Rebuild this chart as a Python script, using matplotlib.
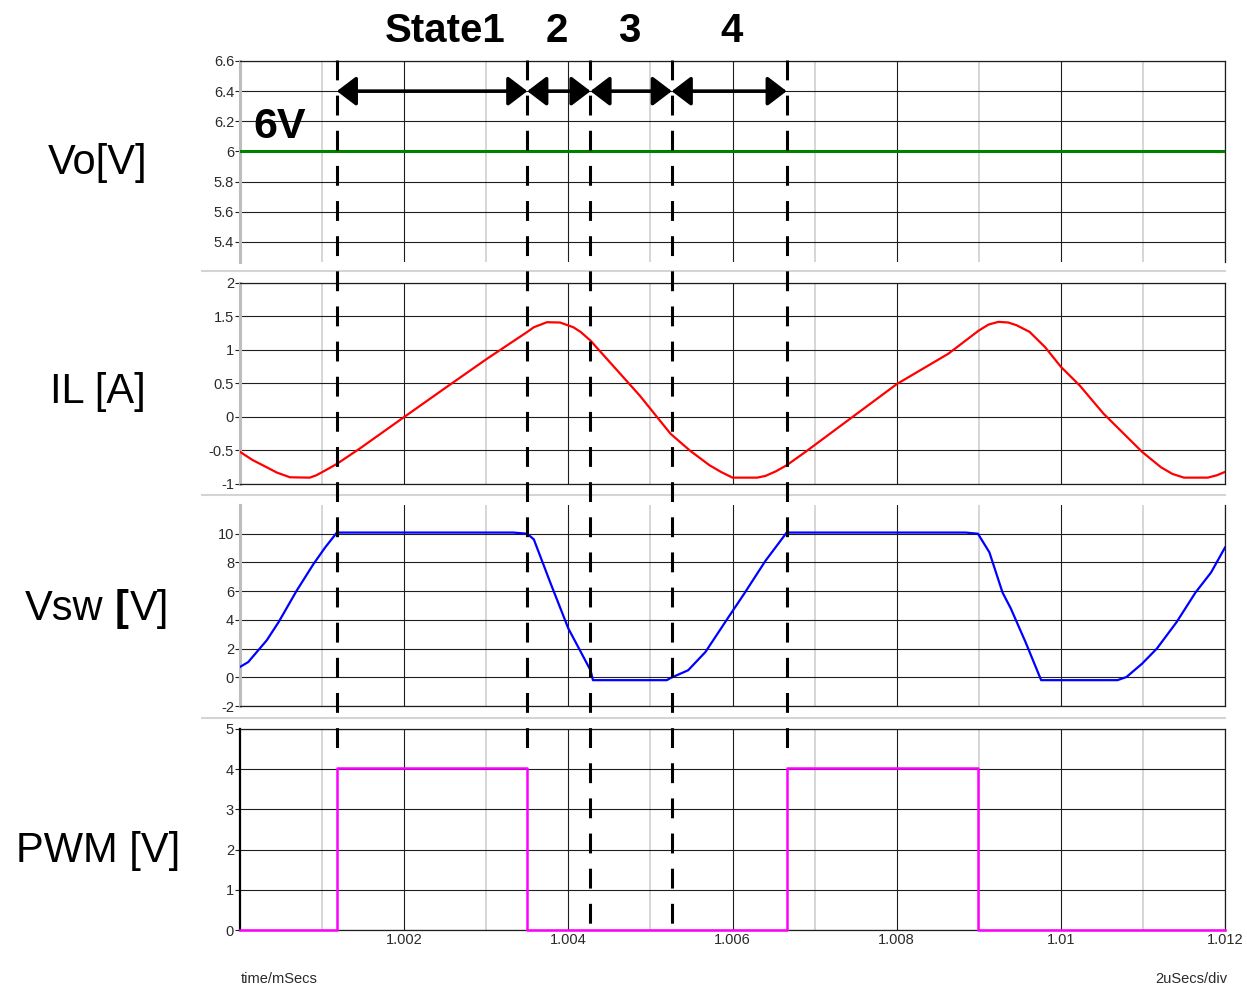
import matplotlib
matplotlib.use('Agg')
import matplotlib.pyplot as plt
from matplotlib.lines import Line2D
from matplotlib.patches import ArrowStyle
from matplotlib.text import Annotation
import matplotlib.transforms as mtransforms

plt.rcParams['font.family'] = ['Liberation Sans', 'DejaVu Sans']

# ---------------- data (time in ms) ----------------
vo_t = [1.000, 1.012]
vo_v = [6.005, 6.005]

il_t = [1.00000, 1.00015, 1.000325, 1.00045, 1.00061, 1.00085, 1.00093, 1.00105,
        1.00118, 1.00146, 1.00200, 1.00252, 1.00301, 1.00350, 1.00358, 1.00374,
        1.00390, 1.00406, 1.00415, 1.00427, 1.00487, 1.005245, 1.00548, 1.00572,
        1.00586, 1.00600, 1.00630, 1.00640, 1.00653, 1.00666, 1.00689, 1.00800,
        1.00863, 1.00885, 1.00900, 1.00912, 1.00924, 1.00936, 1.00946, 1.00962,
        1.00981, 1.01000, 1.01023, 1.01052, 1.01099, 1.01122, 1.01136, 1.01150,
        1.01179, 1.01190, 1.01200]
il_v = [-0.52, -0.64, -0.75, -0.83, -0.90, -0.905, -0.87, -0.79,
        -0.70, -0.47, 0.00, 0.45, 0.87, 1.27, 1.34, 1.415,
        1.41, 1.34, 1.27, 1.14, 0.32, -0.25, -0.50, -0.72,
        -0.82, -0.905, -0.905, -0.88, -0.81, -0.72, -0.52, 0.49,
        0.945, 1.15, 1.29, 1.38, 1.42, 1.41, 1.37, 1.27,
        1.04, 0.75, 0.47, 0.05, -0.52, -0.75, -0.85, -0.905,
        -0.905, -0.87, -0.82]

vsw_t = [1.00000, 1.00010, 1.000325, 1.00047, 1.00069, 1.000894, 1.001037, 1.00118,
         1.00333, 1.00350, 1.00358, 1.00378, 1.00400, 1.00427, 1.00430, 1.00520,
         1.005245, 1.00546, 1.00567, 1.00595, 1.00614, 1.00640, 1.00666, 1.00884,
         1.00899, 1.00913, 1.00929, 1.00939, 1.00957, 1.00976, 1.01069, 1.01080,
         1.01099, 1.01117, 1.01141, 1.01164, 1.01183, 1.01200]
vsw_v = [0.72, 1.06, 2.57, 3.84, 6.03, 7.88, 9.04, 10.08,
         10.08, 10.0, 9.6, 6.6, 3.4, 0.49, -0.2, -0.2,
         -0.05, 0.49, 1.76, 4.18, 5.8, 8.1, 10.08, 10.08,
         10.0, 8.7, 5.9, 4.8, 2.45, -0.2, -0.2, 0.02,
         0.95, 2.0, 3.84, 5.9, 7.3, 9.04]

pwm_edges = [1.000, 1.00118, 1.00350, 1.00666, 1.00899, 1.012]
pwm_levels = [0.0, 4.04, 0.0, 4.04, 0.0, 0.0]

state_bounds = [1.00118, 1.00350, 1.00427, 1.00526, 1.00666]
state_labels = ["State1", "2", "3", "4"]

x_major = [1.002, 1.004, 1.006, 1.008, 1.010, 1.012]
x_major_labels = ["1.002", "1.004", "1.006", "1.008", "1.01", "1.012"]
x_minor = [1.001, 1.003, 1.005, 1.007, 1.009, 1.011]

vo_ticks = [5.4, 5.6, 5.8, 6.0, 6.2, 6.4, 6.6]
vo_ticklabels = ["5.4", "5.6", "5.8", "6", "6.2", "6.4", "6.6"]
il_ticks = [-1, -0.5, 0, 0.5, 1, 1.5, 2]
il_ticklabels = ["-1", "-0.5", "0", "0.5", "1", "1.5", "2"]
vsw_ticks = [-2, 0, 2, 4, 6, 8, 10]
vsw_ticklabels = ["-2", "0", "2", "4", "6", "8", "10"]
pwm_ticks = [0, 1, 2, 3, 4, 5]
pwm_ticklabels = ["0", "1", "2", "3", "4", "5"]

# ---------------- layout ----------------
W, H = 1247, 989
fig = plt.figure(figsize=(W / 100, H / 100), dpi=100)


def fx(px):
    return px / W


def fy(py):
    return 1 - py / H


def make_ax(top, bottom):
    return fig.add_axes([fx(240), fy(bottom), fx(1225) - fx(240), (bottom - top) / H])


GRID = '#1e1e1e'
MINOR = '#cfcfcf'


def style_ax(ax, ylim, ticks, labels, top_spine, bottom_spine, left_color, left_lw):
    ax.set_xlim(1.000, 1.012)
    ax.set_ylim(*ylim)
    ax.set_xticks(x_major)
    ax.set_xticks(x_minor, minor=True)
    ax.set_yticks(ticks)
    ax.set_yticklabels(labels)
    ax.set_axisbelow(True)
    ax.grid(True, which='major', axis='both', color=GRID, lw=0.8)
    ax.grid(True, which='minor', axis='x', color=MINOR, lw=1.2)
    ax.tick_params(axis='x', which='both', length=0, labelbottom=False)
    ax.tick_params(axis='y', length=3.8, width=0.8, color=GRID, pad=0.5,
                   labelsize=10.5, labelcolor='#2a2a2a')
    ax.spines['right'].set_color(GRID)
    ax.spines['right'].set_linewidth(0.9)
    ax.spines['top'].set_visible(top_spine)
    ax.spines['top'].set_color(GRID)
    ax.spines['top'].set_linewidth(0.9)
    ax.spines['bottom'].set_visible(bottom_spine)
    ax.spines['bottom'].set_color(GRID)
    ax.spines['bottom'].set_linewidth(0.9)
    ax.spines['left'].set_color(left_color)
    ax.spines['left'].set_linewidth(left_lw)
    ax.patch.set_alpha(0)


ax_vo = make_ax(61, 262)
ax_il = make_ax(283, 484)
ax_vsw = make_ax(505, 706)
ax_pwm = make_ax(729, 930)

style_ax(ax_vo, (5.267, 6.6), vo_ticks, vo_ticklabels, True, False, '#bdbdbd', 2.2)
style_ax(ax_il, (-1, 2), il_ticks, il_ticklabels, True, True, '#bdbdbd', 2.2)
style_ax(ax_vsw, (-2, 12), vsw_ticks, vsw_ticklabels, False, True, '#bdbdbd', 2.2)
style_ax(ax_pwm, (0, 5), pwm_ticks, pwm_ticklabels, True, True, '#000000', 1.6)

ax_pwm.tick_params(axis='x', which='major', labelbottom=True, pad=2.5,
                   labelsize=10.5, labelcolor='#2a2a2a')
ax_pwm.set_xticklabels(x_major_labels)

# traces
ax_vo.plot(vo_t, vo_v, color='#008000', lw=2.2, zorder=3)
ax_il.plot(il_t, il_v, color='#ff0000', lw=1.6, zorder=3)
ax_vsw.plot(vsw_t, vsw_v, color='#0000ff', lw=1.6, zorder=3)
ax_pwm.plot(pwm_edges, pwm_levels, drawstyle='steps-post', color='#ff00ff',
            lw=1.8, zorder=3, clip_on=False)

# separators between panels
for ysep in (271, 495, 718):
    fig.add_artist(Line2D([fx(202), fx(1225)], [fy(ysep), fy(ysep)],
                          color='#d4d4d4', lw=1.5))

# dashed state boundaries
trans = mtransforms.blended_transform_factory(ax_pwm.transData, fig.transFigure)
dash_end_px = [749, 749, 930, 930, 749]
for xb, yend in zip(state_bounds, dash_end_px):
    ln = Line2D([xb, xb], [fy(60), fy(yend)], transform=trans, color='black',
                lw=2.2, linestyle=(0, (6.5, 5.0)), zorder=10)
    fig.add_artist(ln)

# double-headed arrows
astyle = ArrowStyle('<|-|>', head_length=0.42, head_width=0.32)
for a, b in zip(state_bounds[:-1], state_bounds[1:]):
    ax_vo.annotate('', xy=(b, 6.4), xytext=(a, 6.4),
                   arrowprops=dict(arrowstyle=astyle, mutation_scale=28, lw=2.6,
                                   color='black', shrinkA=0, shrinkB=0),
                   annotation_clip=False, zorder=11)

# state titles
title_x = [445, 557, 629, 732]
for lab, xp in zip(state_labels, title_x):
    fig.text(fx(xp), fy(42), lab, ha='center', va='baseline', fontsize=29,
             fontweight='bold', color='black')

fig.text(fx(253), fy(138), "6V", ha='left', va='baseline', fontsize=31,
         fontweight='bold', color='black')

# left panel labels
fig.text(fx(98), fy(174), "Vo[V]", ha='center', va='baseline', fontsize=30)
fig.text(fx(98), fy(403), "IL [A]", ha='center', va='baseline', fontsize=30)
t1 = fig.text(fx(25), fy(620), "Vsw", ha='left', va='baseline', fontsize=30)
an2 = fig.add_artist(Annotation("[", xy=(1, 0), xycoords=t1,
                                xytext=(8.3, 0), textcoords='offset points',
                                fontsize=30, fontweight='bold',
                                ha='left', va='bottom'))
fig.add_artist(Annotation("V]", xy=(1, 0), xycoords=an2,
                          xytext=(0.5, 0), textcoords='offset points',
                          fontsize=30, ha='left', va='bottom'))
fig.text(fx(98), fy(862), "PWM [V]", ha='center', va='baseline', fontsize=30)

# bottom annotations
fig.text(fx(241), fy(983), "time/mSecs", ha='left', va='baseline', fontsize=10.5,
         color='#2a2a2a')
fig.text(fx(1227), fy(983), "2uSecs/div", ha='right', va='baseline', fontsize=10.5,
         color='#2a2a2a')

fig.savefig('out.png', dpi=100, facecolor='white')
